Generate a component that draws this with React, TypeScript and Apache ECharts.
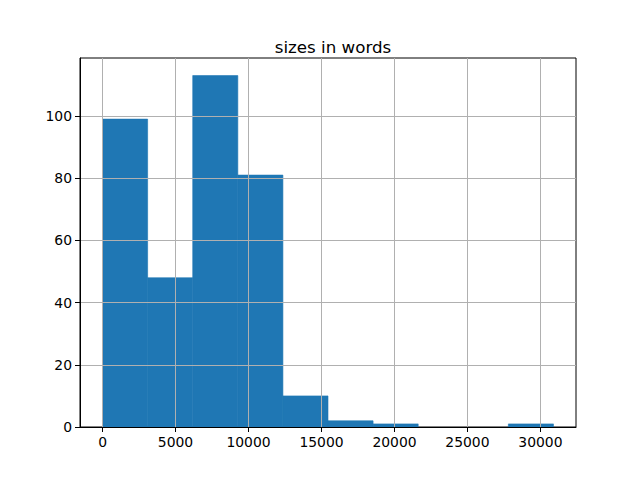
import React, { useEffect, useRef } from "react";
import * as echarts from "echarts";

const binEdges = [0, 3089, 6178, 9268, 12357, 15446, 18535, 21624, 24714, 27803, 30892];
const counts = [99, 48, 113, 81, 10, 2, 1, 0, 0, 1];
const xTicks = [0, 5000, 10000, 15000, 20000, 25000, 30000];
const yTicks = [0, 20, 40, 60, 80, 100];
const titleText = "sizes in words";

export default function App() {
  const ref = useRef<HTMLDivElement>(null);
  useEffect(() => {
    document.body.style.margin = "0";
    const chart = echarts.init(ref.current!, null, { renderer: "svg" });
    const data = counts.map((c, i) => [binEdges[i], binEdges[i + 1], c]);
    const font = "DejaVu Sans";
    chart.setOption({
      animation: false,
      backgroundColor: "#ffffff",
      title: {
        text: titleText,
        left: 328,
        top: 33,
        textAlign: "center",
        textStyle: { fontFamily: font, fontSize: 16.7, fontWeight: "normal", color: "#000" },
      },
      grid: {
        left: 80,
        right: 64,
        top: 58,
        bottom: 53,
        show: true,
        borderColor: "#000",
        borderWidth: 1,
        backgroundColor: "transparent",
      },
      xAxis: {
        type: "value",
        min: -1545,
        max: 32437,
        z: 5,
        axisLine: { show: true, onZero: false, lineStyle: { color: "#000", width: 1 } },
        axisTick: { show: true, inside: false, length: 5, customValues: xTicks, lineStyle: { color: "#000" } },
        axisLabel: {
          customValues: xTicks,
          margin: 8,
          fontFamily: font,
          fontSize: 13.9,
          color: "#000",
          formatter: (v: number) => String(v),
        },
        splitLine: { show: true, lineStyle: { color: "#b0b0b0", width: 1 } },
      },
      yAxis: {
        type: "value",
        min: 0,
        max: 118.65,
        z: 5,
        axisLine: { show: true, onZero: false, lineStyle: { color: "#000", width: 1 } },
        axisTick: { show: true, inside: false, length: 5, customValues: yTicks, lineStyle: { color: "#000" } },
        axisLabel: {
          customValues: yTicks,
          margin: 8,
          fontFamily: font,
          fontSize: 13.9,
          color: "#000",
          formatter: (v: number) => String(v),
        },
        splitLine: { show: true, lineStyle: { color: "#b0b0b0", width: 1 } },
      },
      series: [
        {
          type: "custom",
          z: 2,
          data,
          encode: { x: [0, 1], y: 2 },
          renderItem: (params: any, api: any) => {
            const x0 = api.value(0);
            const x1 = api.value(1);
            const c = api.value(2);
            const p0 = api.coord([x0, c]);
            const p1 = api.coord([x1, 0]);
            return {
              type: "rect",
              shape: { x: p0[0], y: p0[1], width: p1[0] - p0[0], height: p1[1] - p0[1] },
              style: { fill: "#1f77b4", stroke: c > 0 ? "#1f77b4" : null, lineWidth: 0.6 },
            };
          },
        },
      ],
    });
    return () => chart.dispose();
  }, []);
  return <div ref={ref} style={{ width: 640, height: 480 }} />;
}
